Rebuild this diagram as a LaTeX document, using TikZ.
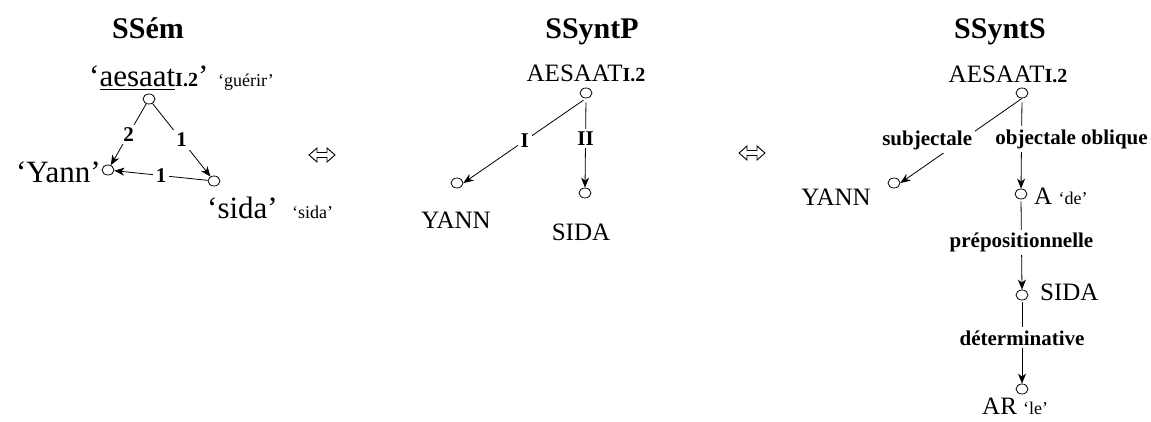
\documentclass[tikz,border=0pt]{standalone}
\usepackage{fontspec}
\setmainfont{Liberation Serif}
\usetikzlibrary{shapes.geometric,arrows.meta}
\tikzset{
  vtx/.style={ellipse, draw, line width=0.8pt, minimum width=12pt, minimum height=10pt, inner sep=0pt},
  arr/.style={line width=0.8pt, -{Stealth[length=10pt,width=8pt,inset=3pt]}},
  lab/.style={fill=white, inner sep=3pt, font=\fontsize{21}{22}\bfseries},
  ttl/.style={anchor=base, inner sep=0pt, font=\fontsize{30}{31}\bfseries},
  big/.style={inner sep=0pt, font=\fontsize{31}{33}\selectfont},
  syn/.style={inner sep=0pt, font=\fontsize{25}{27}\selectfont},
  gl/.style={inner sep=0pt, font=\fontsize{18}{20}\selectfont},
  equiv/.style={line width=0.9pt, line join=miter}
}
\newcommand{\lexsub}{{\fontsize{20}{21}\bfseries I.2}}
\newcommand{\smallgl}[1]{{\fontsize{18}{20}\selectfont #1}}
\newcommand{\myul}[1]{\leavevmode\vtop{\hbox{#1}\kern2.5pt\hrule height 0.9pt}}
\begin{document}
\begin{tikzpicture}[x=1pt,y=-1pt]
\useasboundingbox (0,0) rectangle (1151,421);
% ---------- SSem ----------
\node[ttl] (t1) at (148,38) {SSém};
\node[big, anchor=base west] (lg) at (89,86) {‘\myul{aesaat}\lexsub’};
\node[gl, anchor=base west] (gg) at (218,86) {‘guérir’};
\node[vtx] (g) at (149,99) {};
\node[vtx] (y) at (108,170) {};
\node[vtx] (s) at (214,181) {};
\node[big, anchor=base east] (ly) at (101,182) {‘Yann’};
\node[big, anchor=base west] (ls) at (207,218) {‘sida’};
\node[gl, anchor=base west] (gs) at (292,218) {‘sida’};
\draw[arr] (g) -- node[lab] {2} (y);
\draw[arr] (g) -- node[lab] {1} (s);
\draw[arr] (s) -- node[lab] {1} (y);
% equivalence arrows
\draw[equiv, shift={(322,155)}] (-13,0) -- (-5,-7) -- (-5,-2.5) -- (5,-2.5) -- (5,-7) -- (13,0) -- (5,7) -- (5,2.5) -- (-5,2.5) -- (-5,7) -- cycle;
\draw[equiv, shift={(752,153)}] (-13,0) -- (-5,-7) -- (-5,-2.5) -- (5,-2.5) -- (5,-7) -- (13,0) -- (5,7) -- (5,2.5) -- (-5,2.5) -- (-5,7) -- cycle;
% ---------- SSyntP ----------
\node[ttl] (t2) at (592,38) {SSyntP};
\node[syn, anchor=base] (pl0) at (586,81) {AESAAT\lexsub};
\node[vtx] (p0) at (586,93) {};
\node[vtx] (py) at (457,183) {};
\node[vtx] (ps) at (585,193) {};
\node[syn, anchor=base] (ply) at (456,228) {YANN};
\node[syn, anchor=base] (pls) at (581,240) {SIDA};
\draw[arr, shorten <=3pt] (p0.south) -- node[lab, pos=0.5] {I} (py.east);
\draw[arr, shorten <=4pt] (p0.south) -- node[lab, pos=0.45] {II} (ps.north);
% ---------- SSyntS ----------
\node[ttl] (t3) at (1000,38) {SSyntS};
\node[syn, anchor=base] (sl0) at (1008,82) {AESAAT\lexsub};
\node[vtx] (s0) at (1022,93) {};
\node[vtx] (sy) at (894,183) {};
\node[vtx] (sa) at (1021,194) {};
\node[vtx] (ss) at (1022,295) {};
\node[vtx] (sr) at (1022,389) {};
\node[syn, anchor=base] (sly) at (836,205) {YANN};
\node[syn, anchor=base west] (sla) at (1034,204) {A \smallgl{‘de’}};
\node[syn, anchor=base west] (sls) at (1040,300) {SIDA};
\node[syn, anchor=base west] (slr) at (982,414) {AR \smallgl{‘le’}};
\draw[arr] (s0.south) -- node[lab, pos=0.5, xshift=-34pt] {subjectale} (sy.east);
\draw[arr, shorten <=4pt] (s0.south) -- node[lab, pos=0.45, xshift=50pt] {objectale oblique} (sa.north);
\draw[arr, shorten <=2pt] (sa.south) -- node[lab, pos=0.48] {prépositionnelle} (ss.north);
\draw[arr, shorten <=2pt] (ss.south) -- node[lab, pos=0.45] {déterminative} (sr.north);
\end{tikzpicture}
\end{document}
